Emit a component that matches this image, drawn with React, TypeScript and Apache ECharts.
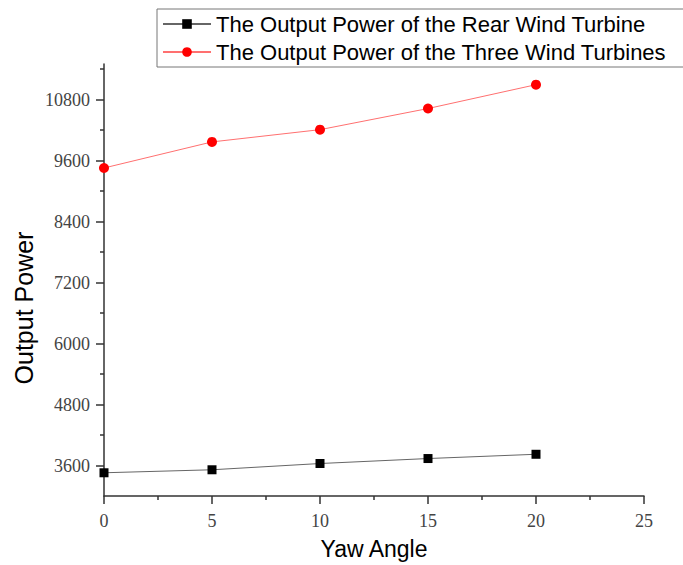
import React, { useEffect, useRef } from "react";
import * as echarts from "echarts";

const yawAngles = [0, 5, 10, 15, 20];
const rearPower = [3457, 3516, 3639, 3737, 3821];
const threePower = [9454, 9967, 10208, 10624, 11093];
const yMajorTicks = [3600, 4800, 6000, 7200, 8400, 9600, 10800];
const yMinorTicks = [4200, 5400, 6600, 7800, 9000, 10200, 11400];
const seriesNames = [
  "The Output Power of the Rear Wind Turbine",
  "The Output Power of the Three Wind Turbines",
];

export default function App() {
  const ref = useRef<HTMLDivElement>(null);
  useEffect(() => {
    if (!ref.current) return;
    const chart = echarts.init(ref.current, undefined, { renderer: "svg" });
    const serif = "Liberation Serif";
    const sans = "Liberation Sans";
    chart.setOption({
      animation: false,
      grid: { left: 104, right: 39, top: 64, bottom: 66 },
      legend: {
        left: 157,
        top: 9,
        orient: "vertical",
        data: seriesNames,
        itemWidth: 48,
        itemHeight: 12,
        itemGap: 6,
        padding: [4, 30, 4, 5],
        borderColor: "#777",
        borderWidth: 1,
        textStyle: { fontFamily: sans, fontSize: 22, color: "#000", lineHeight: 22 },
      },
      xAxis: {
        type: "value",
        min: 0,
        max: 25,
        interval: 5,
        name: "Yaw Angle",
        nameLocation: "middle",
        nameGap: 41,
        nameTextStyle: { fontFamily: sans, fontSize: 23, color: "#000" },
        axisLine: { show: true, lineStyle: { color: "#333", width: 1.5 } },
        axisTick: { show: true, length: 8, lineStyle: { color: "#333", width: 1.5 } },
        minorTick: { show: true, splitNumber: 2, length: 4, lineStyle: { color: "#333", width: 1.5 } },
        axisLabel: { fontFamily: serif, fontSize: 18, color: "#444", margin: 16, formatter: (v: number) => String(v) },
        splitLine: { show: false },
      },
      yAxis: [
        {
          type: "value",
          min: 3000,
          max: 11500,
          position: "left",
          axisLine: { show: true, lineStyle: { color: "#333", width: 1.5 } },
          axisTick: { show: true, length: 8, customValues: yMajorTicks, lineStyle: { color: "#333", width: 1.5 } },
          axisLabel: {
            customValues: yMajorTicks,
            fontFamily: serif,
            fontSize: 18,
            color: "#444",
            margin: 14,
            formatter: (v: number) => String(v),
          },
          splitLine: { show: false },
        },
        {
          type: "value",
          min: 3000,
          max: 11500,
          position: "left",
          axisLine: { show: false },
          axisTick: { show: true, length: 4, customValues: yMinorTicks, lineStyle: { color: "#333", width: 1.5 } },
          axisLabel: { show: false },
          splitLine: { show: false },
        },
      ],
      graphic: [
        {
          type: "text",
          x: 24,
          y: 308,
          rotation: Math.PI / 2,
          style: {
            text: "Output Power",
            fontFamily: sans,
            fontSize: 25,
            fill: "#000",
            align: "center",
            verticalAlign: "middle",
          },
        },
      ],
      series: [
        {
          name: seriesNames[0],
          type: "line",
          yAxisIndex: 0,
          data: yawAngles.map((x, i) => [x, rearPower[i]]),
          symbol: "rect",
          symbolSize: 9,
          lineStyle: { color: "#666", width: 1 },
          itemStyle: { color: "#000" },
          clip: false,
        },
        {
          name: seriesNames[1],
          type: "line",
          yAxisIndex: 0,
          data: yawAngles.map((x, i) => [x, threePower[i]]),
          symbol: "circle",
          symbolSize: 10,
          lineStyle: { color: "#ff7070", width: 1 },
          itemStyle: { color: "#ff0000" },
          clip: false,
        },
      ],
    });
    return () => chart.dispose();
  }, []);
  return <div ref={ref} style={{ width: 683, height: 565, position: "absolute", left: 0, top: 0 }} />;
}
